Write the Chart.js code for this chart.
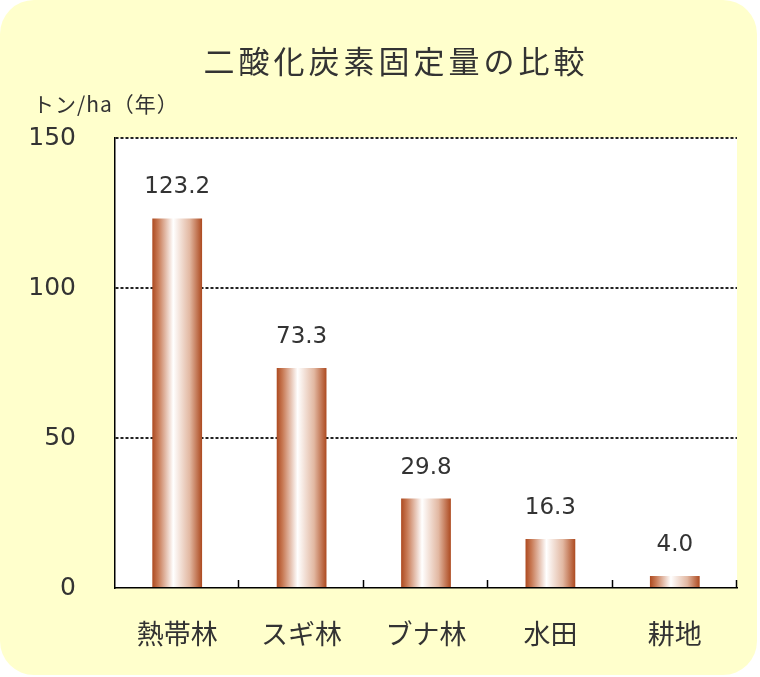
<!DOCTYPE html>
<html>
<head>
<meta charset="utf-8">
<script src="https://cdn.jsdelivr.net/npm/chart.js@4.4.1/dist/chart.umd.min.js"></script>
<style>
  html, body { margin: 0; padding: 0; background: #ffffff; }
  #wrap { width: 760px; height: 677px; }
</style>
</head>
<body>
<div id="wrap"><canvas id="chart" width="760" height="677"></canvas></div>
<script>
// Chart texts
const chartTitle = "二酸化炭素固定量の比較";
const unitLabel = "トン/ha（年）";

// Categories and values
const categories = ["熱帯林", "スギ林", "ブナ林", "水田", "耕地"];
const fixedAmount = [123.2, 73.3, 29.8, 16.3, 4.0];

// Y axis range
const yMin = 0;
const yMax = 150;
const yStep = 50;

const barPct = 0.4;
const jpFont = "'Noto Sans CJK JP', 'Noto Sans', sans-serif";
const numFont = "'DejaVu Sans', Verdana, sans-serif";
const textColor = "#333333";

// Horizontal gradient for each bar (brown edges, white middle), placed from the x scale
const barGradient = (context) => {
  const chart = context.chart;
  const xs = chart.scales && chart.scales.x;
  if (!xs || !chart.chartArea) return "#b5532a";
  const cx = xs.getPixelForValue(context.dataIndex);
  const half = (xs.width / categories.length) * barPct / 2;
  if (!Number.isFinite(cx) || !Number.isFinite(half)) return "#b5532a";
  const g = chart.ctx.createLinearGradient(cx - half, 0, cx + half, 0);
  g.addColorStop(0, "#ad4a20");
  g.addColorStop(0.12, "#c87a55");
  g.addColorStop(0.42, "#ffffff");
  g.addColorStop(0.75, "#e2b8a2");
  g.addColorStop(1, "#ad4a20");
  return g;
};

// Rounded yellow panel, white plot area, title and unit text
const backgroundPlugin = {
  id: "panel",
  beforeDraw(chart) {
    const { ctx, chartArea } = chart;
    ctx.save();
    ctx.fillStyle = "#ffffff";
    ctx.fillRect(0, 0, chart.width, chart.height);
    ctx.fillStyle = "#ffffcc";
    ctx.beginPath();
    ctx.roundRect(0, 0, 757, 675, 34);
    ctx.fill();
    ctx.fillStyle = "#ffffff";
    ctx.fillRect(chartArea.left, chartArea.top, chartArea.right - chartArea.left, chartArea.bottom - chartArea.top);

    ctx.fillStyle = textColor;
    ctx.textBaseline = "middle";
    ctx.textAlign = "center";
    ctx.font = "31px " + jpFont;
    ctx.letterSpacing = "4px";
    ctx.fillText(chartTitle, 396, 61);
    ctx.letterSpacing = "0px";
    ctx.textAlign = "left";
    ctx.font = "21px " + jpFont;
    ctx.letterSpacing = "1px";
    ctx.fillText(unitLabel, 33, 104);
    ctx.restore();
  },
  afterDraw(chart) {
    // Small inward tick marks between categories on the x axis
    const { ctx, chartArea } = chart;
    const n = categories.length;
    const w = (chartArea.right - chartArea.left) / n;
    ctx.save();
    ctx.strokeStyle = "#000000";
    ctx.lineWidth = 1.5;
    for (let k = 1; k <= n; k++) {
      const x = Math.round(chartArea.left + k * w) - 0.5;
      ctx.beginPath();
      ctx.moveTo(x, chartArea.bottom);
      ctx.lineTo(x, chartArea.bottom - 8);
      ctx.stroke();
    }
    ctx.restore();
  },
};

// Value labels above bars
const valueLabelPlugin = {
  id: "valueLabels",
  afterDatasetsDraw(chart) {
    const { ctx } = chart;
    const meta = chart.getDatasetMeta(0);
    ctx.save();
    ctx.fillStyle = textColor;
    ctx.font = "23px " + numFont;
    ctx.textAlign = "center";
    ctx.textBaseline = "middle";
    meta.data.forEach((bar, i) => {
      ctx.fillText(fixedAmount[i].toFixed(1), bar.x, bar.y - 31);
    });
    ctx.restore();
  },
};

new Chart(document.getElementById("chart"), {
  type: "bar",
  plugins: [backgroundPlugin, valueLabelPlugin],
  data: {
    labels: categories,
    datasets: [
      {
        data: fixedAmount,
        backgroundColor: barGradient,
        borderWidth: 0,
        barPercentage: barPct,
        categoryPercentage: 1.0,
      },
    ],
  },
  options: {
    responsive: false,
    animation: false,
    devicePixelRatio: 1,
    layout: { padding: { left: 0, right: 23, top: 138, bottom: 0 } },
    plugins: {
      legend: { display: false },
      tooltip: { enabled: false },
      title: { display: false },
    },
    scales: {
      x: {
        grid: { display: false },
        border: { display: true, color: "#000000", width: 1.5 },
        ticks: {
          color: textColor,
          font: { family: jpFont, size: 27 },
          padding: 22,
          maxRotation: 0,
        },
        afterFit: (s) => { s.height = 89; },
      },
      y: {
        min: yMin,
        max: yMax,
        ticks: {
          stepSize: yStep,
          color: textColor,
          font: { family: numFont, size: 25 },
          padding: 39,
        },
        grid: {
          drawTicks: false,
          color: (c) => (c.tick && c.tick.value === 0 ? "rgba(0,0,0,0)" : "#222222"),
          lineWidth: 2,
        },
        border: { display: true, color: "#000000", width: 1.5, dash: [3, 2] },
        afterFit: (s) => { s.width = 115; },
      },
    },
  },
});
</script>
</body>
</html>
